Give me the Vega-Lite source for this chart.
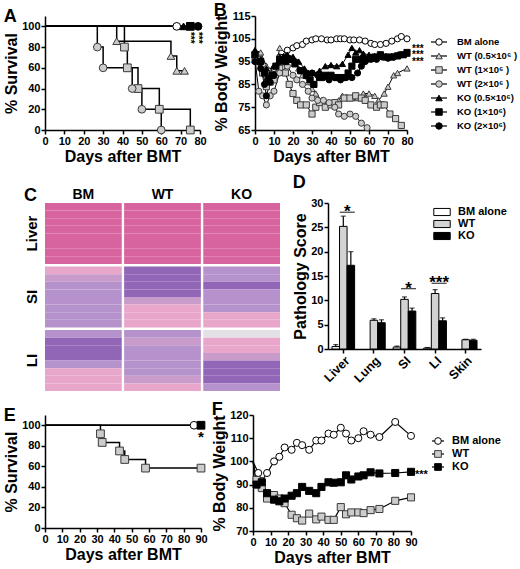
{
  "$schema": "https://vega.github.io/schema/vega-lite/v6.json",
  "background": "white",
  "padding": {"left": 3, "top": 2, "right": 0, "bottom": 0},
  "datasets": {
    "survA": [
      {"g": "BM", "day": 0, "pct": 100}, {"g": "BM", "day": 68, "pct": 100},
      {"g": "WT0.5", "day": 0, "pct": 100}, {"g": "WT0.5", "day": 37, "pct": 85.7}, {"g": "WT0.5", "day": 65, "pct": 71.4}, {"g": "WT0.5", "day": 68, "pct": 57.1}, {"g": "WT0.5", "day": 72, "pct": 57.1},
      {"g": "WT1", "day": 0, "pct": 100}, {"g": "WT1", "day": 41, "pct": 80}, {"g": "WT1", "day": 42.5, "pct": 60}, {"g": "WT1", "day": 48, "pct": 40}, {"g": "WT1", "day": 59, "pct": 20}, {"g": "WT1", "day": 75, "pct": 0},
      {"g": "WT2", "day": 0, "pct": 100}, {"g": "WT2", "day": 27, "pct": 80}, {"g": "WT2", "day": 30, "pct": 60}, {"g": "WT2", "day": 45, "pct": 40}, {"g": "WT2", "day": 50, "pct": 20}, {"g": "WT2", "day": 60, "pct": 0},
      {"g": "KO0.5", "day": 0, "pct": 100}, {"g": "KO0.5", "day": 71.5, "pct": 100},
      {"g": "KO1", "day": 0, "pct": 100}, {"g": "KO1", "day": 75, "pct": 100},
      {"g": "KO2", "day": 0, "pct": 100}, {"g": "KO2", "day": 79, "pct": 100}
    ],
    "starsA": [
      {"day": 75, "pct": 89, "t": "***"}, {"day": 79, "pct": 89, "t": "***"}
    ],
    "bwB": [
      {"g": "BM", "day": 0, "pct": 97}, {"g": "BM", "day": 3, "pct": 95}, {"g": "BM", "day": 5, "pct": 93}, {"g": "BM", "day": 7, "pct": 91}, {"g": "BM", "day": 10, "pct": 92}, {"g": "BM", "day": 13, "pct": 97}, {"g": "BM", "day": 17, "pct": 100}, {"g": "BM", "day": 20, "pct": 101}, {"g": "BM", "day": 22, "pct": 102}, {"g": "BM", "day": 25, "pct": 102.5}, {"g": "BM", "day": 27, "pct": 104}, {"g": "BM", "day": 30, "pct": 104.5}, {"g": "BM", "day": 32, "pct": 105}, {"g": "BM", "day": 35, "pct": 105}, {"g": "BM", "day": 38, "pct": 104.5}, {"g": "BM", "day": 40, "pct": 104.5}, {"g": "BM", "day": 43, "pct": 105}, {"g": "BM", "day": 45, "pct": 105}, {"g": "BM", "day": 47, "pct": 105}, {"g": "BM", "day": 50, "pct": 104.5}, {"g": "BM", "day": 52, "pct": 104.5}, {"g": "BM", "day": 55, "pct": 104.5}, {"g": "BM", "day": 58, "pct": 104}, {"g": "BM", "day": 61, "pct": 103}, {"g": "BM", "day": 63, "pct": 102.5}, {"g": "BM", "day": 66, "pct": 102.5}, {"g": "BM", "day": 69, "pct": 103}, {"g": "BM", "day": 72, "pct": 104}, {"g": "BM", "day": 75, "pct": 105}, {"g": "BM", "day": 77, "pct": 106}, {"g": "BM", "day": 80, "pct": 105},
      {"g": "WT0.5", "day": 0, "pct": 100}, {"g": "WT0.5", "day": 3, "pct": 99}, {"g": "WT0.5", "day": 6, "pct": 93}, {"g": "WT0.5", "day": 8, "pct": 90}, {"g": "WT0.5", "day": 10, "pct": 88}, {"g": "WT0.5", "day": 13, "pct": 101}, {"g": "WT0.5", "day": 17, "pct": 98}, {"g": "WT0.5", "day": 20, "pct": 97}, {"g": "WT0.5", "day": 23, "pct": 92}, {"g": "WT0.5", "day": 25, "pct": 89}, {"g": "WT0.5", "day": 28, "pct": 86}, {"g": "WT0.5", "day": 30, "pct": 83}, {"g": "WT0.5", "day": 32, "pct": 81}, {"g": "WT0.5", "day": 35, "pct": 78}, {"g": "WT0.5", "day": 38, "pct": 77}, {"g": "WT0.5", "day": 41, "pct": 77}, {"g": "WT0.5", "day": 44, "pct": 78}, {"g": "WT0.5", "day": 46, "pct": 80}, {"g": "WT0.5", "day": 48, "pct": 79.5}, {"g": "WT0.5", "day": 51, "pct": 79}, {"g": "WT0.5", "day": 54, "pct": 79}, {"g": "WT0.5", "day": 57, "pct": 81}, {"g": "WT0.5", "day": 60, "pct": 81}, {"g": "WT0.5", "day": 63, "pct": 80}, {"g": "WT0.5", "day": 65, "pct": 78}, {"g": "WT0.5", "day": 68, "pct": 81}, {"g": "WT0.5", "day": 70, "pct": 84}, {"g": "WT0.5", "day": 73, "pct": 89}, {"g": "WT0.5", "day": 75, "pct": 90}, {"g": "WT0.5", "day": 80, "pct": 92},
      {"g": "WT1", "day": 0, "pct": 98}, {"g": "WT1", "day": 2, "pct": 96}, {"g": "WT1", "day": 4, "pct": 90}, {"g": "WT1", "day": 6, "pct": 84}, {"g": "WT1", "day": 8, "pct": 86}, {"g": "WT1", "day": 10, "pct": 87}, {"g": "WT1", "day": 13, "pct": 92}, {"g": "WT1", "day": 16, "pct": 90}, {"g": "WT1", "day": 18, "pct": 85}, {"g": "WT1", "day": 20, "pct": 81}, {"g": "WT1", "day": 22, "pct": 78}, {"g": "WT1", "day": 24, "pct": 76}, {"g": "WT1", "day": 27, "pct": 76}, {"g": "WT1", "day": 30, "pct": 72}, {"g": "WT1", "day": 32, "pct": 75}, {"g": "WT1", "day": 34, "pct": 77}, {"g": "WT1", "day": 37, "pct": 75}, {"g": "WT1", "day": 40, "pct": 76}, {"g": "WT1", "day": 42, "pct": 77}, {"g": "WT1", "day": 44, "pct": 76}, {"g": "WT1", "day": 47, "pct": 79}, {"g": "WT1", "day": 50, "pct": 79}, {"g": "WT1", "day": 53, "pct": 80}, {"g": "WT1", "day": 56, "pct": 79}, {"g": "WT1", "day": 58, "pct": 78}, {"g": "WT1", "day": 61, "pct": 76}, {"g": "WT1", "day": 64, "pct": 75}, {"g": "WT1", "day": 66, "pct": 76}, {"g": "WT1", "day": 68, "pct": 76}, {"g": "WT1", "day": 71, "pct": 72}, {"g": "WT1", "day": 74, "pct": 70}, {"g": "WT1", "day": 77, "pct": 67},
      {"g": "WT2", "day": 0, "pct": 96}, {"g": "WT2", "day": 2, "pct": 82}, {"g": "WT2", "day": 4, "pct": 80}, {"g": "WT2", "day": 6, "pct": 76}, {"g": "WT2", "day": 8, "pct": 80}, {"g": "WT2", "day": 10, "pct": 82}, {"g": "WT2", "day": 13, "pct": 90}, {"g": "WT2", "day": 17, "pct": 93}, {"g": "WT2", "day": 20, "pct": 89}, {"g": "WT2", "day": 22, "pct": 87}, {"g": "WT2", "day": 25, "pct": 85}, {"g": "WT2", "day": 28, "pct": 82}, {"g": "WT2", "day": 30, "pct": 79}, {"g": "WT2", "day": 33, "pct": 78}, {"g": "WT2", "day": 36, "pct": 78}, {"g": "WT2", "day": 39, "pct": 77}, {"g": "WT2", "day": 42, "pct": 75}, {"g": "WT2", "day": 44, "pct": 72}, {"g": "WT2", "day": 47, "pct": 71}, {"g": "WT2", "day": 50, "pct": 72}, {"g": "WT2", "day": 53, "pct": 71}, {"g": "WT2", "day": 56, "pct": 68}, {"g": "WT2", "day": 59, "pct": 66},
      {"g": "KO0.5", "day": 0, "pct": 100}, {"g": "KO0.5", "day": 3, "pct": 96}, {"g": "KO0.5", "day": 6, "pct": 92}, {"g": "KO0.5", "day": 8, "pct": 89}, {"g": "KO0.5", "day": 10, "pct": 93}, {"g": "KO0.5", "day": 13, "pct": 97}, {"g": "KO0.5", "day": 17, "pct": 98}, {"g": "KO0.5", "day": 20, "pct": 97}, {"g": "KO0.5", "day": 23, "pct": 95}, {"g": "KO0.5", "day": 26, "pct": 92}, {"g": "KO0.5", "day": 28, "pct": 90}, {"g": "KO0.5", "day": 31, "pct": 90}, {"g": "KO0.5", "day": 34, "pct": 91}, {"g": "KO0.5", "day": 37, "pct": 93}, {"g": "KO0.5", "day": 40, "pct": 93.5}, {"g": "KO0.5", "day": 43, "pct": 93}, {"g": "KO0.5", "day": 46, "pct": 94}, {"g": "KO0.5", "day": 49, "pct": 98}, {"g": "KO0.5", "day": 51, "pct": 101}, {"g": "KO0.5", "day": 53, "pct": 99}, {"g": "KO0.5", "day": 55, "pct": 100}, {"g": "KO0.5", "day": 57, "pct": 98.5}, {"g": "KO0.5", "day": 60, "pct": 98}, {"g": "KO0.5", "day": 63, "pct": 97.5}, {"g": "KO0.5", "day": 66, "pct": 98}, {"g": "KO0.5", "day": 69, "pct": 97.5}, {"g": "KO0.5", "day": 72, "pct": 97.5}, {"g": "KO0.5", "day": 75, "pct": 97.5}, {"g": "KO0.5", "day": 78, "pct": 98}, {"g": "KO0.5", "day": 80, "pct": 98.5},
      {"g": "KO1", "day": 0, "pct": 98}, {"g": "KO1", "day": 3, "pct": 95}, {"g": "KO1", "day": 5, "pct": 90}, {"g": "KO1", "day": 7, "pct": 87}, {"g": "KO1", "day": 9, "pct": 89}, {"g": "KO1", "day": 11, "pct": 93}, {"g": "KO1", "day": 13, "pct": 96}, {"g": "KO1", "day": 16, "pct": 95}, {"g": "KO1", "day": 19, "pct": 96}, {"g": "KO1", "day": 21, "pct": 94}, {"g": "KO1", "day": 24, "pct": 91}, {"g": "KO1", "day": 27, "pct": 89}, {"g": "KO1", "day": 29, "pct": 87}, {"g": "KO1", "day": 31, "pct": 85}, {"g": "KO1", "day": 34, "pct": 88}, {"g": "KO1", "day": 37, "pct": 89}, {"g": "KO1", "day": 40, "pct": 89}, {"g": "KO1", "day": 43, "pct": 88}, {"g": "KO1", "day": 46, "pct": 88}, {"g": "KO1", "day": 49, "pct": 90}, {"g": "KO1", "day": 51, "pct": 93}, {"g": "KO1", "day": 53, "pct": 96}, {"g": "KO1", "day": 56, "pct": 96}, {"g": "KO1", "day": 58, "pct": 96}, {"g": "KO1", "day": 61, "pct": 96.5}, {"g": "KO1", "day": 63, "pct": 97}, {"g": "KO1", "day": 66, "pct": 98}, {"g": "KO1", "day": 69, "pct": 97}, {"g": "KO1", "day": 72, "pct": 97}, {"g": "KO1", "day": 75, "pct": 97.5}, {"g": "KO1", "day": 78, "pct": 98}, {"g": "KO1", "day": 80, "pct": 99},
      {"g": "KO2", "day": 0, "pct": 95}, {"g": "KO2", "day": 3, "pct": 92}, {"g": "KO2", "day": 5, "pct": 85}, {"g": "KO2", "day": 6, "pct": 80}, {"g": "KO2", "day": 8, "pct": 86}, {"g": "KO2", "day": 10, "pct": 89}, {"g": "KO2", "day": 13, "pct": 95}, {"g": "KO2", "day": 16, "pct": 97}, {"g": "KO2", "day": 19, "pct": 96}, {"g": "KO2", "day": 21, "pct": 95}, {"g": "KO2", "day": 24, "pct": 91}, {"g": "KO2", "day": 27, "pct": 90}, {"g": "KO2", "day": 30, "pct": 90}, {"g": "KO2", "day": 33, "pct": 89}, {"g": "KO2", "day": 36, "pct": 88}, {"g": "KO2", "day": 39, "pct": 87}, {"g": "KO2", "day": 42, "pct": 88}, {"g": "KO2", "day": 45, "pct": 87}, {"g": "KO2", "day": 48, "pct": 88}, {"g": "KO2", "day": 51, "pct": 88}, {"g": "KO2", "day": 54, "pct": 90}, {"g": "KO2", "day": 56, "pct": 93}, {"g": "KO2", "day": 58, "pct": 95}, {"g": "KO2", "day": 61, "pct": 96}, {"g": "KO2", "day": 64, "pct": 96}, {"g": "KO2", "day": 67, "pct": 97}, {"g": "KO2", "day": 70, "pct": 96.5}, {"g": "KO2", "day": 73, "pct": 97}, {"g": "KO2", "day": 76, "pct": 98}
    ],
    "starsB": [
      {"day": 80, "pct": 102, "t": "***"}, {"day": 80, "pct": 99.1, "t": "***"}, {"day": 80, "pct": 96.2, "t": "***"}
    ],
    "groupsAB": [
      {"g": "BM", "i": 0, "label": "BM alone"},
      {"g": "WT0.5", "i": 1, "label": "WT (0.5×10⁶ )"},
      {"g": "WT1", "i": 2, "label": "WT (1×10⁶ )"},
      {"g": "WT2", "i": 3, "label": "WT (2×10⁶ )"},
      {"g": "KO0.5", "i": 4, "label": "KO (0.5×10⁶)"},
      {"g": "KO1", "i": 5, "label": "KO (1×10⁶)"},
      {"g": "KO2", "i": 6, "label": "KO (2×10⁶)"}
    ],
    "histo": [
      {"col": "BM", "organ": "Liver", "strip": "s1", "tissue": "liver"}, {"col": "BM", "organ": "Liver", "strip": "s2", "tissue": "liver"}, {"col": "BM", "organ": "Liver", "strip": "s3", "tissue": "liver"}, {"col": "BM", "organ": "Liver", "strip": "s4", "tissue": "liver"}, {"col": "BM", "organ": "Liver", "strip": "s5", "tissue": "liver"}, {"col": "BM", "organ": "Liver", "strip": "s6", "tissue": "liver"}, {"col": "BM", "organ": "Liver", "strip": "s7", "tissue": "liver"}, {"col": "BM", "organ": "Liver", "strip": "s8", "tissue": "liver"},
      {"col": "WT", "organ": "Liver", "strip": "s1", "tissue": "liver"}, {"col": "WT", "organ": "Liver", "strip": "s2", "tissue": "liver"}, {"col": "WT", "organ": "Liver", "strip": "s3", "tissue": "liver"}, {"col": "WT", "organ": "Liver", "strip": "s4", "tissue": "liver"}, {"col": "WT", "organ": "Liver", "strip": "s5", "tissue": "liver"}, {"col": "WT", "organ": "Liver", "strip": "s6", "tissue": "liver"}, {"col": "WT", "organ": "Liver", "strip": "s7", "tissue": "liver"}, {"col": "WT", "organ": "Liver", "strip": "s8", "tissue": "liver"},
      {"col": "KO", "organ": "Liver", "strip": "s1", "tissue": "liver"}, {"col": "KO", "organ": "Liver", "strip": "s2", "tissue": "liver"}, {"col": "KO", "organ": "Liver", "strip": "s3", "tissue": "liver"}, {"col": "KO", "organ": "Liver", "strip": "s4", "tissue": "liver"}, {"col": "KO", "organ": "Liver", "strip": "s5", "tissue": "liver"}, {"col": "KO", "organ": "Liver", "strip": "s6", "tissue": "liver"}, {"col": "KO", "organ": "Liver", "strip": "s7", "tissue": "liver"}, {"col": "KO", "organ": "Liver", "strip": "s8", "tissue": "liver"},
      {"col": "BM", "organ": "SI", "strip": "s1", "tissue": "submucosa"}, {"col": "BM", "organ": "SI", "strip": "s2", "tissue": "mix"}, {"col": "BM", "organ": "SI", "strip": "s3", "tissue": "mucosa"}, {"col": "BM", "organ": "SI", "strip": "s4", "tissue": "mucosa"}, {"col": "BM", "organ": "SI", "strip": "s5", "tissue": "mucosa"}, {"col": "BM", "organ": "SI", "strip": "s6", "tissue": "mucosa"}, {"col": "BM", "organ": "SI", "strip": "s7", "tissue": "mucosa"}, {"col": "BM", "organ": "SI", "strip": "s8", "tissue": "mucosa"},
      {"col": "WT", "organ": "SI", "strip": "s1", "tissue": "dense"}, {"col": "WT", "organ": "SI", "strip": "s2", "tissue": "dense"}, {"col": "WT", "organ": "SI", "strip": "s3", "tissue": "dense"}, {"col": "WT", "organ": "SI", "strip": "s4", "tissue": "dense"}, {"col": "WT", "organ": "SI", "strip": "s5", "tissue": "mix"}, {"col": "WT", "organ": "SI", "strip": "s6", "tissue": "submucosa"}, {"col": "WT", "organ": "SI", "strip": "s7", "tissue": "submucosa"}, {"col": "WT", "organ": "SI", "strip": "s8", "tissue": "submucosa"},
      {"col": "KO", "organ": "SI", "strip": "s1", "tissue": "mucosa"}, {"col": "KO", "organ": "SI", "strip": "s2", "tissue": "mucosa"}, {"col": "KO", "organ": "SI", "strip": "s3", "tissue": "dense"}, {"col": "KO", "organ": "SI", "strip": "s4", "tissue": "mucosa"}, {"col": "KO", "organ": "SI", "strip": "s5", "tissue": "mucosa"}, {"col": "KO", "organ": "SI", "strip": "s6", "tissue": "mucosa"}, {"col": "KO", "organ": "SI", "strip": "s7", "tissue": "submucosa"}, {"col": "KO", "organ": "SI", "strip": "s8", "tissue": "submucosa"},
      {"col": "BM", "organ": "LI", "strip": "s1", "tissue": "mucosa"}, {"col": "BM", "organ": "LI", "strip": "s2", "tissue": "dense"}, {"col": "BM", "organ": "LI", "strip": "s3", "tissue": "dense"}, {"col": "BM", "organ": "LI", "strip": "s4", "tissue": "dense"}, {"col": "BM", "organ": "LI", "strip": "s5", "tissue": "mucosa"}, {"col": "BM", "organ": "LI", "strip": "s6", "tissue": "submucosa"}, {"col": "BM", "organ": "LI", "strip": "s7", "tissue": "submucosa"}, {"col": "BM", "organ": "LI", "strip": "s8", "tissue": "submucosa"},
      {"col": "WT", "organ": "LI", "strip": "s1", "tissue": "mucosa"}, {"col": "WT", "organ": "LI", "strip": "s2", "tissue": "mix"}, {"col": "WT", "organ": "LI", "strip": "s3", "tissue": "mucosa"}, {"col": "WT", "organ": "LI", "strip": "s4", "tissue": "mucosa"}, {"col": "WT", "organ": "LI", "strip": "s5", "tissue": "mucosa"}, {"col": "WT", "organ": "LI", "strip": "s6", "tissue": "mucosa"}, {"col": "WT", "organ": "LI", "strip": "s7", "tissue": "mix"}, {"col": "WT", "organ": "LI", "strip": "s8", "tissue": "submucosa"},
      {"col": "KO", "organ": "LI", "strip": "s1", "tissue": "lumen"}, {"col": "KO", "organ": "LI", "strip": "s2", "tissue": "submucosa"}, {"col": "KO", "organ": "LI", "strip": "s3", "tissue": "submucosa"}, {"col": "KO", "organ": "LI", "strip": "s4", "tissue": "mix"}, {"col": "KO", "organ": "LI", "strip": "s5", "tissue": "dense"}, {"col": "KO", "organ": "LI", "strip": "s6", "tissue": "dense"}, {"col": "KO", "organ": "LI", "strip": "s7", "tissue": "dense"}, {"col": "KO", "organ": "LI", "strip": "s8", "tissue": "mucosa"}
    ],
    "path": [
      {"organ": "Liver", "grp": "BM alone", "score": 0.5, "hi": 0.9},
      {"organ": "Liver", "grp": "WT", "score": 25.2, "hi": 27.3},
      {"organ": "Liver", "grp": "KO", "score": 17.2, "hi": 20.0},
      {"organ": "Lung", "grp": "WT", "score": 5.9, "hi": 6.2},
      {"organ": "Lung", "grp": "KO", "score": 5.4, "hi": 6.0},
      {"organ": "SI", "grp": "BM alone", "score": 0.4, "hi": 0.6},
      {"organ": "SI", "grp": "WT", "score": 10.2, "hi": 10.7},
      {"organ": "SI", "grp": "KO", "score": 7.8, "hi": 8.4},
      {"organ": "LI", "grp": "BM alone", "score": 0.2, "hi": 0.3},
      {"organ": "LI", "grp": "WT", "score": 11.4, "hi": 12.2},
      {"organ": "LI", "grp": "KO", "score": 5.8, "hi": 6.4},
      {"organ": "Skin", "grp": "WT", "score": 1.9, "hi": 2.0},
      {"organ": "Skin", "grp": "KO", "score": 1.8, "hi": 2.0}
    ],
    "sigD": [
      {"organ": "Liver", "score": 28.1, "t": "*"},
      {"organ": "SI", "score": 12.4, "t": "*"},
      {"organ": "LI", "score": 13.5, "t": "***"}
    ],
    "survE": [
      {"g": "BM", "day": 0, "pct": 100}, {"g": "BM", "day": 86, "pct": 100},
      {"g": "WT", "day": 0, "pct": 100}, {"g": "WT", "day": 32, "pct": 91.7}, {"g": "WT", "day": 33, "pct": 83.3}, {"g": "WT", "day": 43, "pct": 75}, {"g": "WT", "day": 46, "pct": 66.7}, {"g": "WT", "day": 58, "pct": 58.3}, {"g": "WT", "day": 90, "pct": 58.3},
      {"g": "KO", "day": 0, "pct": 100}, {"g": "KO", "day": 90, "pct": 100}
    ],
    "starsE": [
      {"day": 90, "pct": 92, "t": "*"}
    ],
    "bwF": [
      {"g": "BM", "day": 0, "pct": 100}, {"g": "BM", "day": 3, "pct": 95}, {"g": "BM", "day": 5, "pct": 91.5}, {"g": "BM", "day": 8, "pct": 95}, {"g": "BM", "day": 12, "pct": 100}, {"g": "BM", "day": 15, "pct": 102}, {"g": "BM", "day": 18, "pct": 106}, {"g": "BM", "day": 22, "pct": 105}, {"g": "BM", "day": 25, "pct": 108}, {"g": "BM", "day": 28, "pct": 107}, {"g": "BM", "day": 32, "pct": 105}, {"g": "BM", "day": 36, "pct": 109}, {"g": "BM", "day": 39, "pct": 109}, {"g": "BM", "day": 43, "pct": 112}, {"g": "BM", "day": 46, "pct": 111.5}, {"g": "BM", "day": 50, "pct": 114.5}, {"g": "BM", "day": 53, "pct": 112}, {"g": "BM", "day": 56, "pct": 109}, {"g": "BM", "day": 60, "pct": 110}, {"g": "BM", "day": 63, "pct": 113}, {"g": "BM", "day": 67, "pct": 111.5}, {"g": "BM", "day": 72, "pct": 110.5}, {"g": "BM", "day": 81, "pct": 117}, {"g": "BM", "day": 90, "pct": 111},
      {"g": "WT", "day": 0, "pct": 100}, {"g": "WT", "day": 2, "pct": 92}, {"g": "WT", "day": 5, "pct": 88.5}, {"g": "WT", "day": 8, "pct": 84}, {"g": "WT", "day": 12, "pct": 85.5}, {"g": "WT", "day": 15, "pct": 84}, {"g": "WT", "day": 18, "pct": 82}, {"g": "WT", "day": 22, "pct": 77}, {"g": "WT", "day": 25, "pct": 75.5}, {"g": "WT", "day": 28, "pct": 74.5}, {"g": "WT", "day": 32, "pct": 77.5}, {"g": "WT", "day": 36, "pct": 75}, {"g": "WT", "day": 39, "pct": 76.2}, {"g": "WT", "day": 43, "pct": 74.8}, {"g": "WT", "day": 46, "pct": 74.8}, {"g": "WT", "day": 50, "pct": 80.3}, {"g": "WT", "day": 53, "pct": 77.2}, {"g": "WT", "day": 56, "pct": 78}, {"g": "WT", "day": 60, "pct": 78}, {"g": "WT", "day": 63, "pct": 77.7}, {"g": "WT", "day": 67, "pct": 79}, {"g": "WT", "day": 72, "pct": 79.5}, {"g": "WT", "day": 81, "pct": 83}, {"g": "WT", "day": 90, "pct": 84.5},
      {"g": "KO", "day": 0, "pct": 100}, {"g": "KO", "day": 2, "pct": 90}, {"g": "KO", "day": 5, "pct": 91}, {"g": "KO", "day": 8, "pct": 86.3}, {"g": "KO", "day": 12, "pct": 83.5}, {"g": "KO", "day": 15, "pct": 82.8}, {"g": "KO", "day": 18, "pct": 84}, {"g": "KO", "day": 22, "pct": 85.2}, {"g": "KO", "day": 25, "pct": 86.3}, {"g": "KO", "day": 28, "pct": 89}, {"g": "KO", "day": 32, "pct": 87.3}, {"g": "KO", "day": 36, "pct": 86.3}, {"g": "KO", "day": 39, "pct": 89}, {"g": "KO", "day": 43, "pct": 91}, {"g": "KO", "day": 46, "pct": 90.8}, {"g": "KO", "day": 50, "pct": 91}, {"g": "KO", "day": 53, "pct": 94}, {"g": "KO", "day": 56, "pct": 92.2}, {"g": "KO", "day": 60, "pct": 93.5}, {"g": "KO", "day": 63, "pct": 94}, {"g": "KO", "day": 67, "pct": 95.3}, {"g": "KO", "day": 72, "pct": 94.8}, {"g": "KO", "day": 81, "pct": 95}, {"g": "KO", "day": 90, "pct": 95.5}
    ],
    "starsF": [
      {"day": 90, "pct": 95.5, "t": "***"}
    ],
    "groupsEF": [
      {"g": "BM", "i": 0, "label": "BM alone"},
      {"g": "WT", "i": 1, "label": "WT"},
      {"g": "KO", "i": 2, "label": "KO"}
    ]
  },
  "vconcat": [
    {
      "hconcat": [
        {
          "title": {"text": "A", "offset": -10},
          "width": 155,
          "height": 114,
          "encoding": {
            "x": {"field": "day", "type": "quantitative", "scale": {"domain": [0, 80], "nice": false}, "axis": {"values": [0, 10, 20, 30, 40, 50, 60, 70, 80], "title": "Days after BMT"}},
            "y": {"field": "pct", "type": "quantitative", "scale": {"domain": [0, 110], "nice": false}, "axis": {"values": [0, 20, 40, 60, 80, 100], "title": "% Survival"}}
          },
          "layer": [
            {
              "data": {"name": "survA"},
              "mark": {"type": "line", "interpolate": "step-after", "color": "black", "strokeWidth": 1.5},
              "encoding": {"detail": {"field": "g"}}
            },
            {
              "data": {"name": "survA"},
              "transform": [{"filter": "datum.day > 0"}],
              "mark": {"type": "point", "filled": true, "size": 60, "strokeWidth": 1, "opacity": 1},
              "encoding": {
                "shape": {"field": "g", "type": "nominal", "scale": {"domain": ["BM", "WT0.5", "WT1", "WT2", "KO0.5", "KO1", "KO2"], "range": ["circle", "triangle-up", "square", "circle", "triangle-up", "square", "circle"]}, "legend": null},
                "fill": {"field": "g", "type": "nominal", "scale": {"domain": ["BM", "WT0.5", "WT1", "WT2", "KO0.5", "KO1", "KO2"], "range": ["white", "#cccccc", "#cccccc", "#cccccc", "black", "black", "black"]}, "legend": null},
                "stroke": {"field": "g", "type": "nominal", "scale": {"domain": ["BM", "WT0.5", "WT1", "WT2", "KO0.5", "KO1", "KO2"], "range": ["black", "#3a3a3a", "#3a3a3a", "#3a3a3a", "black", "black", "black"]}, "legend": null}
              }
            },
            {
              "data": {"name": "starsA"},
              "mark": {"type": "text", "angle": 90, "fontSize": 10, "fontWeight": "bold", "color": "black"},
              "encoding": {"text": {"field": "t"}}
            }
          ]
        },
        {
          "title": {"text": "B", "offset": -10},
          "width": 152,
          "height": 114,
          "encoding": {
            "x": {"field": "day", "type": "quantitative", "scale": {"domain": [0, 80], "nice": false}, "axis": {"values": [0, 10, 20, 30, 40, 50, 60, 70, 80], "title": "Days after BMT"}},
            "y": {"field": "pct", "type": "quantitative", "scale": {"domain": [65, 115], "nice": false}, "axis": {"values": [65, 75, 85, 95, 105, 115], "title": "% Body Weight"}}
          },
          "layer": [
            {
              "data": {"name": "bwB"},
              "mark": {"type": "line", "color": "black", "strokeWidth": 1},
              "encoding": {"detail": {"field": "g"}}
            },
            {
              "data": {"name": "bwB"},
              "mark": {"type": "point", "filled": true, "size": 38, "strokeWidth": 1, "opacity": 1},
              "encoding": {
                "shape": {"field": "g", "type": "nominal", "scale": {"domain": ["BM", "WT0.5", "WT1", "WT2", "KO0.5", "KO1", "KO2"], "range": ["circle", "triangle-up", "square", "circle", "triangle-up", "square", "circle"]}, "legend": null},
                "fill": {"field": "g", "type": "nominal", "scale": {"domain": ["BM", "WT0.5", "WT1", "WT2", "KO0.5", "KO1", "KO2"], "range": ["white", "#cccccc", "#cccccc", "#cccccc", "black", "black", "black"]}, "legend": null},
                "stroke": {"field": "g", "type": "nominal", "scale": {"domain": ["BM", "WT0.5", "WT1", "WT2", "KO0.5", "KO1", "KO2"], "range": ["black", "#3a3a3a", "#3a3a3a", "#3a3a3a", "black", "black", "black"]}, "legend": null}
              }
            },
            {
              "data": {"name": "starsB"},
              "mark": {"type": "text", "align": "left", "dx": 5, "dy": 3, "fontSize": 10, "fontWeight": "bold", "color": "black"},
              "encoding": {"text": {"field": "t"}}
            }
          ]
        },
        {
          "width": 16,
          "height": 114,
          "data": {"name": "groupsAB"},
          "encoding": {
            "y": {"field": "i", "type": "quantitative", "scale": {"domain": [-1.857, 6.286], "reverse": true, "nice": false, "zero": false}, "axis": null}
          },
          "layer": [
            {
              "mark": {"type": "rule", "color": "black", "strokeWidth": 1.2},
              "encoding": {
                "x": {"datum": 0, "type": "quantitative", "scale": {"domain": [0, 1]}, "axis": null},
                "x2": {"datum": 1}
              }
            },
            {
              "mark": {"type": "point", "filled": true, "size": 42, "strokeWidth": 1, "opacity": 1},
              "encoding": {
                "x": {"datum": 0.5, "type": "quantitative"},
                "shape": {"field": "g", "type": "nominal", "scale": {"domain": ["BM", "WT0.5", "WT1", "WT2", "KO0.5", "KO1", "KO2"], "range": ["circle", "triangle-up", "square", "circle", "triangle-up", "square", "circle"]}, "legend": null},
                "fill": {"field": "g", "type": "nominal", "scale": {"domain": ["BM", "WT0.5", "WT1", "WT2", "KO0.5", "KO1", "KO2"], "range": ["white", "#cccccc", "#cccccc", "#cccccc", "black", "black", "black"]}, "legend": null},
                "stroke": {"field": "g", "type": "nominal", "scale": {"domain": ["BM", "WT0.5", "WT1", "WT2", "KO0.5", "KO1", "KO2"], "range": ["black", "#3a3a3a", "#3a3a3a", "#3a3a3a", "black", "black", "black"]}, "legend": null}
              }
            },
            {
              "mark": {"type": "text", "align": "left", "dx": 10, "fontSize": 9.5, "fontWeight": "bold", "color": "black", "font": "Liberation Sans, DejaVu Sans"},
              "encoding": {
                "x": {"datum": 1, "type": "quantitative"},
                "text": {"field": "label"}
              }
            }
          ]
        }
      ],
      "spacing": 6
    },
    {
      "hconcat": [
        {
          "title": {"text": "C", "offset": -18},
          "width": 235,
          "height": 188,
          "data": {"name": "histo"},
          "mark": {"type": "rect"},
          "encoding": {
            "x": {"field": "col", "type": "nominal", "sort": ["BM", "WT", "KO"], "scale": {"paddingInner": 0.03, "paddingOuter": 0}, "axis": {"orient": "top", "title": null, "domain": false, "ticks": false, "labelAngle": 0, "labelFontSize": 14, "labelPadding": 2}},
            "y": {"field": "organ", "type": "nominal", "sort": ["Liver", "SI", "LI"], "scale": {"paddingInner": 0.04, "paddingOuter": 0}, "axis": {"title": null, "domain": false, "ticks": false, "labelAngle": -90, "labelFontSize": 15, "labelPadding": 6}},
            "yOffset": {"field": "strip", "type": "ordinal", "scale": {"paddingInner": 0, "paddingOuter": 0}},
            "fill": {"field": "tissue", "type": "nominal", "scale": {"domain": ["liver", "mucosa", "dense", "mix", "submucosa", "lumen"], "range": ["#d8649f", "#b592cc", "#9266b6", "#c89bcb", "#e9a6cb", "#e3e1e5"]}, "legend": null}
          }
        },
        {
          "title": {"text": "D", "offset": 5},
          "width": 153,
          "height": 146,
          "encoding": {
            "x": {"field": "organ", "type": "nominal", "sort": ["Liver", "Lung", "SI", "LI", "Skin"], "scale": {"paddingInner": 0.26, "paddingOuter": 0.13}, "axis": {"title": null, "labelAngle": -45, "labelFontSize": 12.5}},
            "y": {"field": "score", "type": "quantitative", "scale": {"domain": [0, 30], "nice": false}, "axis": {"values": [0, 5, 10, 15, 20, 25, 30], "title": "Pathology Score"}}
          },
          "layer": [
            {
              "data": {"name": "path"},
              "mark": {"type": "bar", "stroke": "black", "strokeWidth": 1},
              "encoding": {
                "xOffset": {"field": "grp", "type": "nominal", "sort": ["BM alone", "WT", "KO"], "scale": {"paddingInner": 0}},
                "fill": {"field": "grp", "type": "nominal", "sort": ["BM alone", "WT", "KO"], "scale": {"domain": ["BM alone", "WT", "KO"], "range": ["white", "#d3d3d3", "black"]}, "legend": {"orient": "none", "legendX": 108, "legendY": 3, "title": null, "symbolType": "M-1.5,-0.65H1.5V0.65H-1.5Z", "symbolSize": 120, "symbolStrokeColor": "black", "symbolStrokeWidth": 1, "labelFontSize": 11, "labelFontWeight": "bold", "labelColor": "black", "rowPadding": 0, "labelOffset": 10}}
              }
            },
            {
              "data": {"name": "path"},
              "mark": {"type": "rule", "color": "black", "strokeWidth": 1.2},
              "encoding": {
                "xOffset": {"field": "grp", "type": "nominal", "sort": ["BM alone", "WT", "KO"]},
                "y2": {"field": "hi"}
              }
            },
            {
              "data": {"name": "path"},
              "mark": {"type": "tick", "orient": "horizontal", "size": 5, "thickness": 1.2, "color": "black"},
              "encoding": {
                "xOffset": {"field": "grp", "type": "nominal", "sort": ["BM alone", "WT", "KO"]},
                "y": {"field": "hi", "type": "quantitative"}
              }
            },
            {
              "data": {"name": "sigD"},
              "mark": {"type": "tick", "orient": "horizontal", "size": 15, "thickness": 1.3, "color": "black", "xOffset": 4},
              "encoding": {}
            },
            {
              "data": {"name": "sigD"},
              "mark": {"type": "text", "fontSize": 17, "fontWeight": "bold", "baseline": "alphabetic", "dy": 5, "color": "black", "xOffset": 4},
              "encoding": {"text": {"field": "t"}}
            }
          ]
        }
      ],
      "spacing": 12,
      "resolve": {"scale": {"fill": "independent"}}
    },
    {
      "hconcat": [
        {
          "title": {"text": "E", "offset": -10},
          "width": 156,
          "height": 113,
          "encoding": {
            "x": {"field": "day", "type": "quantitative", "scale": {"domain": [0, 90], "nice": false}, "axis": {"values": [0, 10, 20, 30, 40, 50, 60, 70, 80, 90], "title": "Days after BMT"}},
            "y": {"field": "pct", "type": "quantitative", "scale": {"domain": [0, 110], "nice": false}, "axis": {"values": [0, 20, 40, 60, 80, 100], "title": "% Survival"}}
          },
          "layer": [
            {
              "data": {"name": "survE"},
              "mark": {"type": "line", "interpolate": "step-after", "color": "black", "strokeWidth": 1.5},
              "encoding": {"detail": {"field": "g"}}
            },
            {
              "data": {"name": "survE"},
              "transform": [{"filter": "datum.day > 0"}],
              "mark": {"type": "point", "filled": true, "size": 60, "strokeWidth": 1, "opacity": 1},
              "encoding": {
                "shape": {"field": "g", "type": "nominal", "scale": {"domain": ["BM", "WT", "KO"], "range": ["circle", "square", "square"]}, "legend": null},
                "fill": {"field": "g", "type": "nominal", "scale": {"domain": ["BM", "WT", "KO"], "range": ["white", "#cccccc", "black"]}, "legend": null},
                "stroke": {"field": "g", "type": "nominal", "scale": {"domain": ["BM", "WT", "KO"], "range": ["black", "#3a3a3a", "black"]}, "legend": null}
              }
            },
            {
              "data": {"name": "starsE"},
              "mark": {"type": "text", "fontSize": 15, "fontWeight": "bold", "baseline": "middle", "dy": 4, "color": "black"},
              "encoding": {"text": {"field": "t"}}
            }
          ]
        },
        {
          "title": {"text": "F", "offset": -10},
          "width": 158,
          "height": 116,
          "encoding": {
            "x": {"field": "day", "type": "quantitative", "scale": {"domain": [0, 90], "nice": false}, "axis": {"values": [0, 10, 20, 30, 40, 50, 60, 70, 80, 90], "title": "Days after BMT"}},
            "y": {"field": "pct", "type": "quantitative", "scale": {"domain": [70, 120], "nice": false}, "axis": {"values": [70, 80, 90, 100, 110, 120], "title": "% Body Weight"}}
          },
          "layer": [
            {
              "data": {"name": "bwF"},
              "mark": {"type": "line", "color": "black", "strokeWidth": 1.2},
              "encoding": {"detail": {"field": "g"}}
            },
            {
              "data": {"name": "bwF"},
              "transform": [{"filter": "datum.day > 0"}],
              "mark": {"type": "point", "filled": true, "size": 50, "strokeWidth": 1, "opacity": 1},
              "encoding": {
                "shape": {"field": "g", "type": "nominal", "scale": {"domain": ["BM", "WT", "KO"], "range": ["circle", "square", "square"]}, "legend": null},
                "fill": {"field": "g", "type": "nominal", "scale": {"domain": ["BM", "WT", "KO"], "range": ["white", "#cccccc", "black"]}, "legend": null},
                "stroke": {"field": "g", "type": "nominal", "scale": {"domain": ["BM", "WT", "KO"], "range": ["black", "#3a3a3a", "black"]}, "legend": null}
              }
            },
            {
              "data": {"name": "starsF"},
              "mark": {"type": "text", "align": "left", "dx": 4, "dy": 3, "fontSize": 11, "fontWeight": "bold", "color": "black"},
              "encoding": {"text": {"field": "t"}}
            }
          ]
        },
        {
          "width": 12,
          "height": 116,
          "data": {"name": "groupsEF"},
          "encoding": {
            "y": {"field": "i", "type": "quantitative", "scale": {"domain": [-2, 6.923], "reverse": true, "nice": false, "zero": false}, "axis": null}
          },
          "layer": [
            {
              "mark": {"type": "rule", "color": "black", "strokeWidth": 1.2},
              "encoding": {
                "x": {"datum": 0, "type": "quantitative", "scale": {"domain": [0, 1]}, "axis": null},
                "x2": {"datum": 1}
              }
            },
            {
              "mark": {"type": "point", "filled": true, "size": 45, "strokeWidth": 1, "opacity": 1},
              "encoding": {
                "x": {"datum": 0.5, "type": "quantitative"},
                "shape": {"field": "g", "type": "nominal", "scale": {"domain": ["BM", "WT", "KO"], "range": ["circle", "square", "square"]}, "legend": null},
                "fill": {"field": "g", "type": "nominal", "scale": {"domain": ["BM", "WT", "KO"], "range": ["white", "#cccccc", "black"]}, "legend": null},
                "stroke": {"field": "g", "type": "nominal", "scale": {"domain": ["BM", "WT", "KO"], "range": ["black", "#3a3a3a", "black"]}, "legend": null}
              }
            },
            {
              "mark": {"type": "text", "align": "left", "dx": 8, "fontSize": 11, "fontWeight": "bold", "color": "black"},
              "encoding": {
                "x": {"datum": 1, "type": "quantitative"},
                "text": {"field": "label"}
              }
            }
          ]
        }
      ],
      "spacing": 3
    }
  ],
  "spacing": 10,
  "resolve": {"scale": {"shape": "independent", "fill": "independent", "stroke": "independent"}},
  "config": {
    "font": "Liberation Sans",
    "view": {"stroke": null},
    "axis": {
      "grid": false,
      "domainColor": "black",
      "domainWidth": 1.5,
      "tickColor": "black",
      "tickWidth": 1.5,
      "tickSize": 4,
      "labelColor": "black",
      "labelFont": "Liberation Sans",
      "labelFontSize": 11,
      "labelFontWeight": "bold",
      "labelPadding": 1,
      "labelFlush": false,
      "labelOverlap": false,
      "titleFont": "Liberation Sans",
      "titleFontSize": 16,
      "titleFontWeight": "bold",
      "titleColor": "black",
      "titlePadding": 2
    },
    "title": {"fontSize": 18, "fontWeight": "bold", "anchor": "start", "frame": "bounds", "color": "black", "font": "Liberation Sans"}
  }
}
